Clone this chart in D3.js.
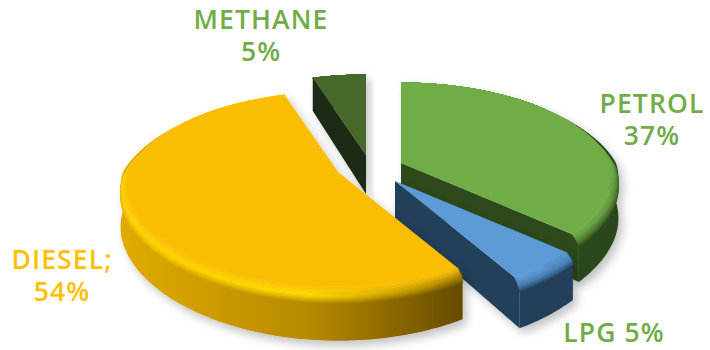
<!DOCTYPE html>
<html>
<head>
<meta charset="utf-8">
<script src="https://cdn.jsdelivr.net/npm/d3@7"></script>
<style>
html,body{margin:0;padding:0;background:#fff}
svg{display:block}
text{font-family:"Open Sans",sans-serif;font-weight:600}
</style>
</head>
<body>
<svg id="chart" width="710" height="350"></svg>
<script>
// Fuel shares, drawn clockwise from twelve o'clock.
const categories = ["PETROL", "LPG", "DIESEL", "METHANE"];
const shares = [37, 5, 54, 5];
const labelLines = [["PETROL", "37%"], ["LPG 5%"], ["DIESEL;", "54%"], ["METHANE", "5%"]];

// Tilted-disc projection.
const radius = 215, squash = 96 / 215, perspective = 0.2, depth = 39;
const flatRadius = 0.965, bevelDepth = 9, bevelSteps = 14;

// Where each exploded slice has its tip.
const tips = {
  PETROL: [401, 163], LPG: [395, 181], DIESEL: [338, 172], METHANE: [366, 155]
};

const looks = {
  PETROL: {top: "#70ad47", face: "#2d4a1b",
    wall: ["#2d4a1b", "#2d4a1b", "#2b471a"], peak: ["#5f9a3b", "#5f9a3b", "#568c35"],
    span: [400, 500, 617]},
  LPG: {top: "#5b9bd5", face: "#223f5a",
    wall: ["#223f5a", "#223f5a", "#223f5a"], peak: ["#4d88bd", "#4d88bd", "#4d88bd"],
    span: [510, 540, 576]},
  DIESEL: {top: "#fbbd00", face: "#8a6800",
    wall: ["#e0ac00", "#b78900", "#664c00"], peak: ["#ffd400", "#ffde00", "#b08600"],
    span: [120, 310, 462]},
  METHANE: {top: "#46672b", face: "#1d2c12",
    wall: ["#1d2c12", "#1d2c12", "#1d2c12"], peak: ["#46672b", "#46672b", "#46672b"],
    span: [310, 340, 368]}
};

const labelStyles = {
  PETROL: {x: 652, y: [113, 145], fill: "#70ad47"},
  LPG: {x: 614, y: [342], fill: "#70ad47"},
  DIESEL: {x: 62, y: [269, 301], fill: "#ffc000"},
  METHANE: {x: 261, y: [29, 61], fill: "#70ad47"}
};

const svg = d3.select("#chart");
const defs = svg.append("defs");

const shadow = defs.append("filter").attr("id", "drop")
  .attr("x", "-15%").attr("y", "-15%").attr("width", "130%").attr("height", "135%");
shadow.append("feDropShadow").attr("dx", 4).attr("dy", 5)
  .attr("stdDeviation", 5).attr("flood-color", "#000").attr("flood-opacity", 0.24);

// Maps a point on the disc (angle clockwise from the top) to the page.
function project(tip, angle, r, z) {
  const u = r * Math.sin(angle), v = -r * Math.cos(angle);
  const s = 1 / (1 - perspective * v);
  const sx = 1 / (1 - (v > 0 ? 0.15 : 0.25) * v);
  return [tip[0] + radius * u * sx, tip[1] + radius * squash * v * s + z * s];
}

// The flat top reaches the full radius along the far edge and narrows
// towards the viewer, where the bevel becomes visible.
const bevelReach = d3.scaleLinear().domain([-0.7, 0.3]).range([0, 1]).clamp(true);
function rimRadius(angle, t) {
  const inset = (1 - flatRadius) * bevelReach(-Math.cos(angle));
  return 1 - inset * (1 - Math.sin(t * Math.PI / 2));
}
function rimDepth(angle, t) {
  return bevelDepth * t * bevelReach(-Math.cos(angle));
}

const line = d3.line();
const pie = d3.pie().sort(null)(shares);

function ringPoints(tip, a0, a1, t) {
  const n = Math.max(2, Math.ceil((a1 - a0) / 0.02));
  return d3.range(n + 1).map(i => {
    const a = a0 + (a1 - a0) * i / n;
    return project(tip, a, rimRadius(a, t), rimDepth(a, t));
  });
}

function arcPoints(tip, a0, a1, r, z) {
  const n = Math.max(2, Math.ceil((a1 - a0) / 0.02));
  return d3.range(n + 1).map(i => project(tip, a0 + (a1 - a0) * i / n, r, z));
}

function horizontalGradient(id, span, colors) {
  const g = defs.append("linearGradient").attr("id", id)
    .attr("gradientUnits", "userSpaceOnUse")
    .attr("x1", span[0]).attr("x2", span[2]).attr("y1", 0).attr("y2", 0);
  const t = d3.scaleLinear().domain([span[0], span[2]]).range([0, 1]);
  colors.forEach((c, i) => g.append("stop").attr("offset", t(span[i])).attr("stop-color", c));
  return `url(#${id})`;
}

function drawSlice(index) {
  const name = categories[index], slice = pie[index];
  const tip = tips[name], look = looks[name];
  const a0 = slice.startAngle, a1 = slice.endAngle;
  const group = svg.append("g").attr("class", "slice").attr("filter", "url(#drop)");

  // Cut faces: the trailing one shows on slices whose near side faces the viewer.
  const cutFace = a => [project(tip, 0, 0, 0), project(tip, a, 1, 0),
                        project(tip, a, 1, depth), project(tip, 0, 0, depth)];
  if (name !== "DIESEL") {
    const cuts = name === "METHANE" ? a0 : a1;
    group.append("path").attr("d", line(cutFace(cuts)) + "Z").attr("fill", look.face);
  }

  // Outer wall, from the rim down to the lower disc.
  const outer = arcPoints(tip, a0, a1, 1, 0);
  const lower = arcPoints(tip, a0, a1, 1, depth).reverse();
  const wallFill = horizontalGradient(`wall-${index}`, look.span, look.wall);
  group.append("path").attr("d", line(outer.concat(lower)) + "Z").attr("fill", wallFill);

  // Bevel: thin rings rolling from the flat top over into the wall.
  const bevelColor = (t, k) => t < 0.45
    ? d3.interpolateRgb(look.top, look.peak[k])(t / 0.45)
    : d3.interpolateRgb(look.peak[k], look.wall[k])((t - 0.45) / 0.55);
  d3.range(bevelSteps).reverse().forEach(b => {
    const t0 = b / bevelSteps, t1 = (b + 1) / bevelSteps;
    const pts = ringPoints(tip, a0, a1, t0).concat(ringPoints(tip, a0, a1, t1).reverse());
    const fill = horizontalGradient(`bevel-${index}-${b}`, look.span,
      [0, 1, 2].map(k => bevelColor((t0 + t1) / 2, k)));
    group.append("path").attr("d", line(pts) + "Z").attr("fill", fill)
      .attr("stroke", fill).attr("stroke-width", 0.6);
  });

  // Flat top of the slice.
  const topPts = [project(tip, 0, 0, 0)].concat(ringPoints(tip, a0, a1, 0));
  group.append("path").attr("d", line(topPts) + "Z").attr("fill", look.top);
  // The top runs out to the full radius along the straight edges.
  [a0, a1].forEach(a => {
    group.append("path")
      .attr("d", line([project(tip, 0, 0, 0), project(tip, a, 1, 0), project(tip, a, rimRadius(a, 0), 0)]) + "Z")
      .attr("fill", look.top);
  });
}

// Back to front.
[3, 0, 1, 2].forEach(drawSlice);

// Slice labels.
categories.forEach((name, i) => {
  const style = labelStyles[name];
  labelLines[i].forEach((text, j) => {
    svg.append("text").attr("class", "label")
      .attr("x", style.x).attr("y", style.y[j])
      .attr("text-anchor", "middle")
      .attr("font-size", 26.5).attr("letter-spacing", 1.1)
      .attr("fill", style.fill).text(text);
  });
});
</script>
</body>
</html>
